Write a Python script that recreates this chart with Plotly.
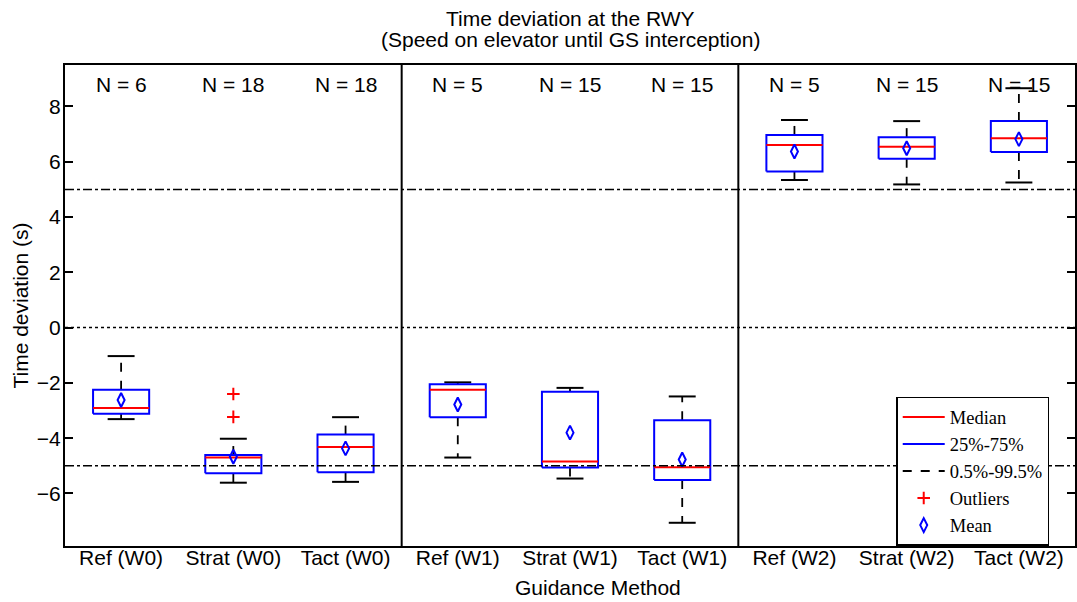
import plotly.graph_objects as go

labels = ["Ref (W0)", "Strat (W0)", "Tact (W0)", "Ref (W1)", "Strat (W1)", "Tact (W1)",
          "Ref (W2)", "Strat (W2)", "Tact (W2)"]
n_counts = [6, 18, 18, 5, 15, 15, 5, 15, 15]
whisk_lo = [-3.31, -5.61, -5.58, -4.70, -5.46, -7.06, 5.34, 5.18, 5.25]
q1 = [-3.12, -5.27, -5.23, -3.24, -5.06, -5.51, 5.65, 6.11, 6.35]
median = [-2.91, -4.70, -4.32, -2.25, -4.84, -5.05, 6.61, 6.54, 6.85]
q3 = [-2.25, -4.61, -3.87, -2.05, -2.32, -3.35, 6.97, 6.89, 7.47]
whisk_hi = [-1.03, -4.02, -3.24, -1.98, -2.18, -2.49, 7.51, 7.47, 8.66]
means = [-2.62, -4.67, -4.37, -2.78, -3.80, -4.77, 6.37, 6.49, 6.82]
outlier_idx = [1, 1]
outlier_val = [-2.40, -3.23]
group_separators = [3.5, 6.5]
ref_lines = [-5, 5]
title_lines = ["Time deviation at the RWY", "(Speed on elevator until GS interception)"]
x_title = "Guidance Method"
y_title = "Time deviation (s)"

xs = list(range(1, len(labels) + 1))
BW = 0.25   # half box width
CW = 0.12   # half cap width

box_x, box_y, med_x, med_y = [], [], [], []
wh_x, wh_y, cap_x, cap_y = [], [], [], []
for x, lo, a, m, b, hi in zip(xs, whisk_lo, q1, median, q3, whisk_hi):
    box_x += [x - BW, x + BW, x + BW, x - BW, x - BW, None]
    box_y += [a, a, b, b, a, None]
    med_x += [x - BW, x + BW, None]
    med_y += [m, m, None]
    wh_x += [x, x, None, x, x, None]
    wh_y += [b, hi, None, a, lo, None]
    cap_x += [x - CW, x + CW, None, x - CW, x + CW, None]
    cap_y += [hi, hi, None, lo, lo, None]

SANS = "Liberation Sans, Arial"
FS = 21

fig = go.Figure()
fig.add_trace(go.Scatter(x=wh_x, y=wh_y, mode="lines", name="0.5%-99.5%",
                         line=dict(color="black", width=1.8, dash="dash"), legendrank=3))
fig.add_trace(go.Scatter(x=cap_x, y=cap_y, mode="lines", showlegend=False,
                         line=dict(color="black", width=2)))
fig.add_trace(go.Scatter(x=box_x, y=box_y, mode="lines", name="25%-75%",
                         line=dict(color="#0000ff", width=2), legendrank=2))
fig.add_trace(go.Scatter(x=med_x, y=med_y, mode="lines", name="Median",
                         line=dict(color="#ff0000", width=2), legendrank=1))
fig.add_trace(go.Scatter(x=[xs[i] for i in outlier_idx], y=outlier_val, mode="markers",
                         name="Outliers", legendrank=4,
                         marker=dict(symbol="cross-thin", size=9,
                                     line=dict(color="#ff0000", width=2))))
fig.add_trace(go.Scatter(x=xs, y=means, mode="markers", name="Mean", legendrank=5,
                         marker=dict(symbol="diamond-tall-open", size=10, color="#0000ff",
                                     line=dict(color="#0000ff", width=2))))

for yv in ref_lines:
    fig.add_hline(y=yv, line=dict(color="black", width=1.5, dash="dashdot"))
fig.add_hline(y=0, line=dict(color="black", width=1.5, dash="dot"))
for xv in group_separators:
    fig.add_vline(x=xv, line=dict(color="black", width=2))

for x, n in zip(xs, n_counts):
    fig.add_annotation(x=x, y=8.8, xref="x", yref="y", text=f"N = {n}", showarrow=False,
                       font=dict(family=SANS, size=FS, color="black"))

for txt, yp in zip(title_lines, [1.0977, 1.052]):
    fig.add_annotation(x=0.5, y=yp, xref="paper", yref="paper", text=txt, showarrow=False,
                       xanchor="center", yanchor="middle",
                       font=dict(family=SANS, size=FS, color="black"))

fig.add_annotation(x=0.528, y=-0.0873, xref="paper", yref="paper", text=x_title,
                   showarrow=False, xanchor="center", yanchor="middle",
                   font=dict(family=SANS, size=FS, color="black"))
fig.add_annotation(x=-0.0445, y=0.5, xref="paper", yref="paper", text=y_title,
                   showarrow=False, xanchor="center", yanchor="middle", textangle=-90,
                   font=dict(family=SANS, size=FS, color="black"))

fig.update_layout(
    width=1077, height=602,
    margin=dict(l=65, r=0, t=65, b=56),
    paper_bgcolor="white", plot_bgcolor="white",
    font=dict(family=SANS, size=FS, color="black"),
    legend=dict(x=0.823, y=0.31, xanchor="left", yanchor="top",
                bgcolor="white", bordercolor="black", borderwidth=1.5,
                font=dict(family="Liberation Serif, Times New Roman", size=18.5),
                tracegroupgap=0, itemwidth=42),
    xaxis=dict(range=[0.5, 9.5], tickvals=xs, ticktext=labels, ticks="",
               showgrid=False, zeroline=False, showline=True, linecolor="black",
               linewidth=2, mirror=True, tickfont=dict(size=FS), ticklabelstandoff=-8),
    yaxis=dict(range=[-7.9, 9.5], tickvals=[-6, -4, -2, 0, 2, 4, 6, 8],
               ticks="inside", ticklen=8, tickwidth=1.5, tickcolor="black",
               showgrid=False, zeroline=False, showline=True, linecolor="black",
               linewidth=2, mirror="ticks", tickfont=dict(size=FS), ticklabelstandoff=-2),
)

fig.write_html("out.html")
